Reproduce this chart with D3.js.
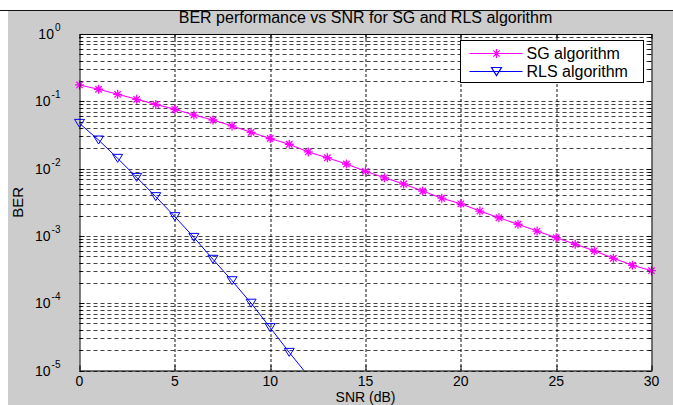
<!DOCTYPE html>
<html>
<head>
<meta charset="utf-8">
<script src="https://cdn.jsdelivr.net/npm/d3@7"></script>
<style>
  body { margin: 0; background: #fff; }
  svg { display: block; font-family: Arial, "Liberation Sans", sans-serif; }
</style>
</head>
<body>
<div id="chart"></div>
<script>
// SNR points (dB)
const snrSG = d3.range(0, 31);
const snrRLS = d3.range(0, 13);

// BER
const berSG = [
  0.175, 0.151, 0.127, 0.107, 0.090, 0.076, 0.0625, 0.0527, 0.043, 0.0346,
  0.028, 0.023, 0.0177, 0.0145, 0.0117, 0.0091, 0.0073, 0.0059, 0.00465, 0.00363,
  0.0030, 0.00234, 0.00186, 0.00149, 0.00118, 0.00094, 0.00075, 0.00060, 0.000465, 0.000366,
  0.000304
];
const berRLS = [
  0.047, 0.0266, 0.0142, 0.0074, 0.00383, 0.00193, 0.00095, 0.000449, 0.000216, 0.0001,
  4.34e-5, 1.86e-5, 8.3e-6
];

const xTicks = [0, 5, 10, 15, 20, 25, 30];
const yExponents = [0, -1, -2, -3, -4, -5];
const seriesNames = ["SG algorithm", "RLS algorithm"];

const W = 673, H = 405;
const margin = { top: 34, right: 21.5, bottom: 34.5, left: 79.5 };
const width = W - margin.left - margin.right;
const height = H - margin.top - margin.bottom;

const svg = d3.select("#chart").append("svg")
  .attr("width", W)
  .attr("height", H);

// figure background
svg.append("rect")
  .attr("x", 8).attr("y", 10)
  .attr("width", W - 8).attr("height", H - 10)
  .attr("fill", "#cccccc");
svg.append("line")
  .attr("x1", 0).attr("x2", W)
  .attr("y1", 10.5).attr("y2", 10.5)
  .attr("stroke", "#111").attr("stroke-width", 1.2);

const g = svg.append("g")
  .attr("transform", `translate(${margin.left},${margin.top})`);

const x = d3.scaleLinear().domain([0, 30]).range([0, width]);
const y = d3.scaleLog().domain([1e-5, 1]).range([height, 0]);

g.append("rect")
  .attr("width", width).attr("height", height)
  .attr("fill", "#fff");

// grid: minor + major on y, major on x
const yMinor = [];
for (let e = -5; e < 0; e++) {
  for (let m = 1; m < 10; m++) yMinor.push(m * Math.pow(10, e));
}

g.append("g").selectAll("line")
  .data(yMinor)
  .join("line")
  .attr("x1", 0).attr("x2", width)
  .attr("y1", (d) => Math.round(y(d)) + 0.5)
  .attr("y2", (d) => Math.round(y(d)) + 0.5)
  .attr("stroke", "#222")
  .attr("stroke-opacity", 0.85)
  .attr("stroke-dasharray", "4,3");

g.append("g").selectAll("line")
  .data(xTicks.slice(1, -1))
  .join("line")
  .attr("x1", (d) => Math.round(x(d)) + 0.5)
  .attr("x2", (d) => Math.round(x(d)) + 0.5)
  .attr("y1", 0).attr("y2", height)
  .attr("stroke", "#111")
  .attr("stroke-dasharray", "3,2");

// ticks (inward, both sides)
const tickG = g.append("g").attr("stroke", "#000");
xTicks.forEach((t) => {
  const px = Math.round(x(t)) + 0.5;
  tickG.append("line").attr("x1", px).attr("x2", px).attr("y1", height).attr("y2", height - 5);
  tickG.append("line").attr("x1", px).attr("x2", px).attr("y1", 0).attr("y2", 5);
});
yMinor.forEach((t) => {
  const py = Math.round(y(t)) + 0.5;
  const len = t === Math.pow(10, Math.round(Math.log10(t))) ? 5 : 3;
  tickG.append("line").attr("x1", 0).attr("x2", len).attr("y1", py).attr("y2", py);
  tickG.append("line").attr("x1", width).attr("x2", width - len).attr("y1", py).attr("y2", py);
});

// data lines
g.append("clipPath").attr("id", "plot-clip")
  .append("rect").attr("width", width).attr("height", height);

const line = d3.line()
  .x((d) => x(d[0]))
  .y((d) => y(d[1]));

const sgData = snrSG.map((s, i) => [s, berSG[i]]);
const rlsData = snrRLS.map((s, i) => [s, berRLS[i]]);

const starPath = "M-4.5,0H4.5M0,-4.5V4.5M-3.2,-3.2L3.2,3.2M-3.2,3.2L3.2,-3.2";
const triPath = "M-5,-4L5,-4L0,4Z";

const plot = g.append("g").attr("clip-path", "url(#plot-clip)");

plot.append("path")
  .datum(sgData)
  .attr("fill", "none")
  .attr("stroke", "#ff00ff")
  .attr("stroke-width", 1.1)
  .attr("d", line);

plot.append("path")
  .datum(rlsData)
  .attr("fill", "none")
  .attr("stroke", "#0000ff")
  .attr("stroke-width", 1)
  .attr("d", line);

// the last RLS point sits below the axis, so its marker is left out
g.append("g").selectAll("path")
  .data(sgData)
  .join("path")
  .attr("transform", (d) => `translate(${x(d[0])},${y(d[1])})`)
  .attr("d", starPath)
  .attr("fill", "none")
  .attr("stroke", "#ff00ff")
  .attr("stroke-width", 1.3);

g.append("g").selectAll("path")
  .data(rlsData.filter((d) => d[1] >= 1e-5))
  .join("path")
  .attr("transform", (d) => `translate(${x(d[0])},${y(d[1])})`)
  .attr("d", triPath)
  .attr("fill", "none")
  .attr("stroke", "#0000ff")
  .attr("stroke-width", 1);

// axes box
g.append("rect")
  .attr("x", 0.5).attr("y", 0.5)
  .attr("width", width).attr("height", height)
  .attr("fill", "none")
  .attr("stroke", "#000")
  .attr("stroke-width", 1);

// tick labels
g.append("g").selectAll("text")
  .data(xTicks)
  .join("text")
  .attr("x", (d) => x(d))
  .attr("y", height + 15)
  .attr("text-anchor", "middle")
  .style("font-size", "14px")
  .attr("fill", "#000")
  .text((d) => d);

const yLab = g.append("g").selectAll("text")
  .data(yExponents)
  .join("text")
  .attr("x", -19)
  .attr("y", (d) => y(Math.pow(10, d)) + 5)
  .attr("text-anchor", "end")
  .style("font-size", "14px")
  .attr("fill", "#000");
yLab.append("tspan").text("10");
yLab.append("tspan")
  .attr("dx", 1)
  .attr("dy", -8)
  .style("font-size", "10px")
  .text((d) => d);

// axis titles
g.append("text")
  .attr("x", width / 2)
  .attr("y", height + 31)
  .attr("text-anchor", "middle")
  .style("font-size", "14px")
  .text("SNR (dB)");

g.append("text")
  .attr("transform", `translate(${-57},${height / 2}) rotate(-90)`)
  .attr("text-anchor", "middle")
  .style("font-size", "15px")
  .text("BER");

g.append("text")
  .attr("x", width / 2)
  .attr("y", -11)
  .attr("text-anchor", "middle")
  .style("font-size", "16px")
  .text("BER performance vs SNR for SG and RLS algorithm");

// legend
const legend = svg.append("g").attr("transform", "translate(460.5,40.5)");
legend.append("rect")
  .attr("width", 183).attr("height", 42)
  .attr("fill", "#fff")
  .attr("stroke", "#000");

const legendItems = [
  { name: seriesNames[0], color: "#ff00ff", marker: starPath, y: 13 },
  { name: seriesNames[1], color: "#0000ff", marker: triPath, y: 31 }
];
legendItems.forEach((it) => {
  const row = legend.append("g").attr("transform", `translate(0,${it.y})`);
  row.append("line")
    .attr("x1", 9).attr("x2", 62)
    .attr("stroke", it.color).attr("stroke-width", 1);
  row.append("path")
    .attr("transform", "translate(36,0)")
    .attr("d", it.marker)
    .attr("fill", "none")
    .attr("stroke", it.color)
    .attr("stroke-width", 1.2);
  row.append("text")
    .attr("x", 66)
    .attr("y", 5)
    .style("font-size", "16px")
    .text(it.name);
});
</script>
</body>
</html>
